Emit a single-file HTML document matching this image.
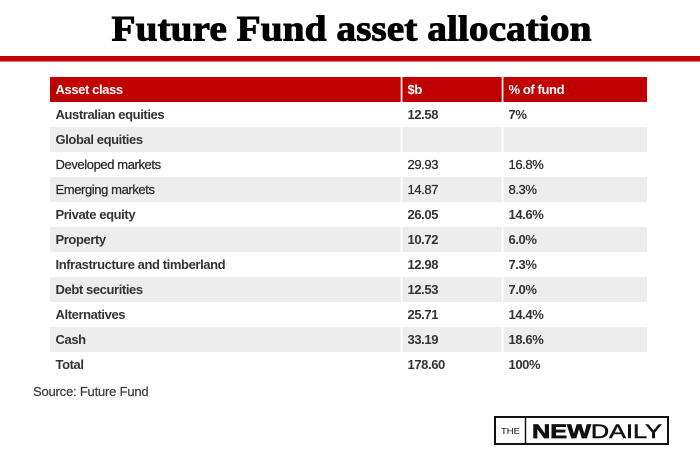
<!DOCTYPE html>
<html>
<head>
<meta charset="utf-8">
<style>
html,body{margin:0;padding:0;background:#fff;}
svg{display:block;}
.t{font-family:"Liberation Sans",Arial,sans-serif;font-size:13px;letter-spacing:-0.4px;fill:#333;font-weight:bold;}
.r{font-weight:normal;fill:#2a2a2a;stroke:#2a2a2a;stroke-width:0.25px;}
.h{fill:#fff;}
</style>
</head>
<body>
<svg width="700" height="461" viewBox="0 0 700 461" xmlns="http://www.w3.org/2000/svg">
<rect x="0" y="0" width="700" height="461" fill="#fff"/>
<text x="111.5" y="40.7" textLength="480" lengthAdjust="spacingAndGlyphs" font-family="'Liberation Serif',serif" font-weight="bold" font-size="36" fill="#000" stroke="#000" stroke-width="0.9">Future Fund asset allocation</text>
<rect x="0" y="56" width="700" height="5.5" fill="#c00000"/>

<!-- header -->
<rect x="50" y="77" width="350.7" height="25" fill="#c00000"/>
<rect x="402.4" y="77" width="99.3" height="25" fill="#c00000"/>
<rect x="503.4" y="77" width="143.6" height="25" fill="#c00000"/>
<text class="t h" x="55.5" y="94">Asset class</text>
<text class="t h" x="407.5" y="94">$b</text>
<text class="t h" x="508.5" y="94">% of fund</text>

<!-- gray rows -->
<g fill="#ededed">
<rect x="50" y="127" width="350.7" height="25"/><rect x="402.4" y="127" width="99.3" height="25"/><rect x="503.4" y="127" width="143.6" height="25"/>
<rect x="50" y="177" width="350.7" height="25"/><rect x="402.4" y="177" width="99.3" height="25"/><rect x="503.4" y="177" width="143.6" height="25"/>
<rect x="50" y="227" width="350.7" height="25"/><rect x="402.4" y="227" width="99.3" height="25"/><rect x="503.4" y="227" width="143.6" height="25"/>
<rect x="50" y="277" width="350.7" height="25"/><rect x="402.4" y="277" width="99.3" height="25"/><rect x="503.4" y="277" width="143.6" height="25"/>
<rect x="50" y="327" width="350.7" height="25"/><rect x="402.4" y="327" width="99.3" height="25"/><rect x="503.4" y="327" width="143.6" height="25"/>
</g>

<text class="t" x="55.5" y="119">Australian equities</text><text class="t" x="407.5" y="119">12.58</text><text class="t" x="508.5" y="119">7%</text>
<text class="t" x="55.5" y="144">Global equities</text>
<text class="t r" x="55.5" y="169">Developed markets</text><text class="t r" x="407.5" y="169">29.93</text><text class="t r" x="508.5" y="169">16.8%</text>
<text class="t r" x="55.5" y="194">Emerging markets</text><text class="t r" x="407.5" y="194">14.87</text><text class="t r" x="508.5" y="194">8.3%</text>
<text class="t" x="55.5" y="219">Private equity</text><text class="t" x="407.5" y="219">26.05</text><text class="t" x="508.5" y="219">14.6%</text>
<text class="t" x="55.5" y="244">Property</text><text class="t" x="407.5" y="244">10.72</text><text class="t" x="508.5" y="244">6.0%</text>
<text class="t" x="55.5" y="269">Infrastructure and timberland</text><text class="t" x="407.5" y="269">12.98</text><text class="t" x="508.5" y="269">7.3%</text>
<text class="t" x="55.5" y="294">Debt securities</text><text class="t" x="407.5" y="294">12.53</text><text class="t" x="508.5" y="294">7.0%</text>
<text class="t" x="55.5" y="319">Alternatives</text><text class="t" x="407.5" y="319">25.71</text><text class="t" x="508.5" y="319">14.4%</text>
<text class="t" x="55.5" y="344">Cash</text><text class="t" x="407.5" y="344">33.19</text><text class="t" x="508.5" y="344">18.6%</text>
<text class="t" x="55.5" y="369">Total</text><text class="t" x="407.5" y="369">178.60</text><text class="t" x="508.5" y="369">100%</text>

<text x="33" y="396" font-family="'Liberation Sans',Arial,sans-serif" font-size="13" letter-spacing="-0.2" fill="#3a3a3a" stroke="#3a3a3a" stroke-width="0.2">Source: Future Fund</text>

<!-- logo -->
<rect x="495" y="417" width="173" height="27" fill="#fff" stroke="#111" stroke-width="2"/>
<line x1="525.5" y1="417" x2="525.5" y2="444" stroke="#111" stroke-width="1.5"/>
<text x="501" y="434" textLength="19" lengthAdjust="spacingAndGlyphs" font-family="'Liberation Sans',Arial,sans-serif" font-size="8" fill="#111">THE</text>
<text x="532" y="438" textLength="130" lengthAdjust="spacingAndGlyphs" font-family="'Liberation Sans',Arial,sans-serif" font-size="19" fill="#111"><tspan font-weight="bold" stroke="#111" stroke-width="0.7">NEW</tspan><tspan stroke="#111" stroke-width="0.5">DAILY</tspan></text>
</svg>
</body>
</html>
